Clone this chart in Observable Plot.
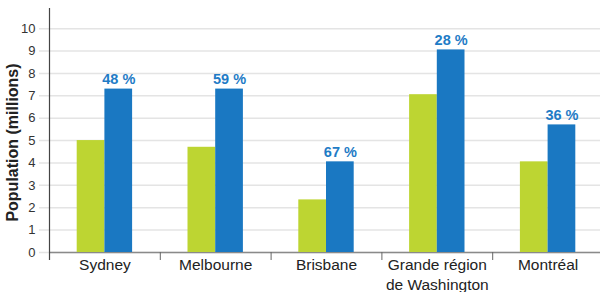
<!DOCTYPE html>
<html>
<head>
<meta charset="utf-8">
<script src="https://cdn.jsdelivr.net/npm/d3@7"></script>
<script src="https://cdn.jsdelivr.net/npm/@observablehq/plot@0.6"></script>
<style>
  html, body { margin: 0; padding: 0; background: #fff; }
  #chart svg { display: block; overflow: visible; }
</style>
</head>
<body>
<div id="chart"></div>
<script>
// ---- data ----
const cities = ["Sydney", "Melbourne", "Brisbane", "Grande région de Washington", "Montréal"];
const cityLabels = ["Sydney", "Melbourne", "Brisbane", "Grande région\nde Washington", "Montréal"];
const popBefore = [5.0, 4.7, 2.35, 7.05, 4.05];
const popAfter = [7.3, 7.3, 4.05, 9.05, 5.7];
const growthLabels = ["48 %", "59 %", "67 %", "28 %", "36 %"];
const yTicks = [0, 1, 2, 3, 4, 5, 6, 7, 8, 9, 10];
const yLabel = "Population (millions)";

const before = cities.map((c, i) => ({city: c, value: popBefore[i]}));
const after = cities.map((c, i) => ({city: c, value: popAfter[i], label: growthLabels[i]}));
const labels = cities.map((c, i) => ({city: c, label: cityLabels[i]}));

const W = 600, H = 292;
const xRange = [49, 603];
const step = (xRange[1] - xRange[0]) / cities.length;
const half = step / 4; // half of a band (band = step/2)

const chart = Plot.plot({
  width: W,
  height: H,
  marginTop: 8,
  marginBottom: 40,
  marginLeft: 49,
  marginRight: 0,
  style: {fontFamily: "'Liberation Sans', Arial, sans-serif", fontSize: "13px", color: "#333", background: "#fff"},
  x: {domain: cities, range: xRange, paddingInner: 0.5, paddingOuter: 0.25, round: false, axis: null},
  y: {domain: [0, 10.9], ticks: yTicks, tickSize: 0, tickPadding: 14, label: null, tickFormat: d => String(d)},
  marks: [
    // gridlines (extend left as ticks)
    Plot.ruleY(yTicks, {y: d => d, stroke: "#e4e4e4", strokeWidth: 1.5, insetLeft: -10}),
    // baseline
    Plot.ruleY([0], {stroke: "#8a8a8a", strokeWidth: 1.5}),
    // bars
    Plot.barY(before, {x: "city", y: "value", fill: "#bdd532", insetRight: half}),
    Plot.barY(after, {x: "city", y: "value", fill: "#1a78c2", insetLeft: half}),
    // growth labels
    Plot.text(after, {x: "city", y: "value", text: "label", dx: half / 2, dy: -5, lineAnchor: "bottom",
      fill: "#1f7cc6", fontWeight: "bold", fontSize: 14.5}),
    // y axis line
    Plot.ruleX([cities[0]], {x: d => d, dx: -step / 2, stroke: "#444", strokeWidth: 1.2, insetBottom: -8}),
    // category separators
    Plot.ruleX(cities.slice(1), {x: d => d, dx: -step / 2, y1: 0, y2: 0, insetBottom: -8, stroke: "#666", strokeWidth: 1}),
    // category labels
    Plot.text(labels, {x: "city", frameAnchor: "bottom", text: "label", lineAnchor: "top", dy: 4,
      lineHeight: 1.25, fontSize: 15.5, fill: "#222"}),
    // y label
    Plot.text([yLabel], {frameAnchor: "left", textAnchor: "middle", rotate: -90, dx: -37, dy: 12,
      fontWeight: "bold", fontSize: 16, fill: "#222"})
  ]
});
document.getElementById("chart").appendChild(chart);
</script>
</body>
</html>
